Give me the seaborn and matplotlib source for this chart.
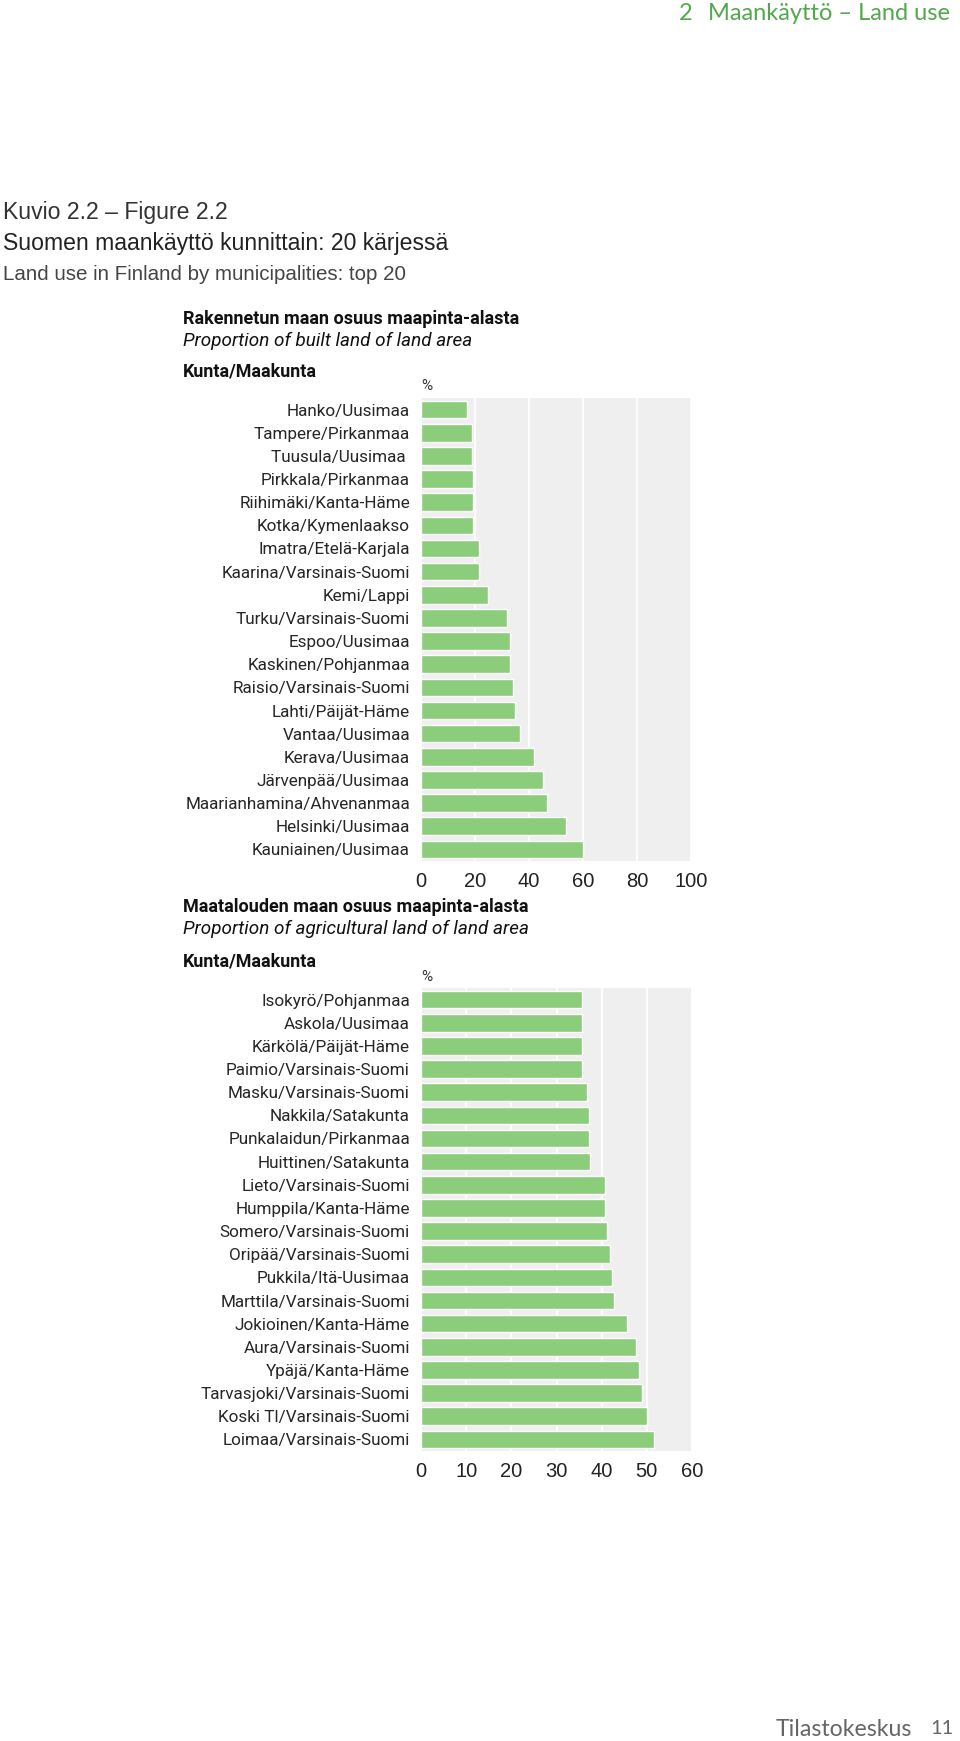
import matplotlib
matplotlib.use("Agg")
import matplotlib.pyplot as plt
import seaborn as sns
import pandas as pd

# Built land, % of land area
built_places = [
    "Hanko/Uusimaa", "Tampere/Pirkanmaa", "Tuusula/Uusimaa ", "Pirkkala/Pirkanmaa",
    "Riihimäki/Kanta-Häme", "Kotka/Kymenlaakso", "Imatra/Etelä-Karjala",
    "Kaarina/Varsinais-Suomi", "Kemi/Lappi", "Turku/Varsinais-Suomi", "Espoo/Uusimaa",
    "Kaskinen/Pohjanmaa", "Raisio/Varsinais-Suomi", "Lahti/Päijät-Häme", "Vantaa/Uusimaa",
    "Kerava/Uusimaa", "Järvenpää/Uusimaa", "Maarianhamina/Ahvenanmaa", "Helsinki/Uusimaa",
    "Kauniainen/Uusimaa",
]
built_share = [16.9, 18.8, 18.8, 19.4, 19.4, 19.4, 21.3, 21.3, 24.7, 31.7,
               32.9, 32.9, 34.2, 34.8, 36.8, 42.0, 45.3, 46.5, 53.6, 60.0]
built_ticks = [0, 20, 40, 60, 80, 100]

# Agricultural land, % of land area
agri_places = [
    "Isokyrö/Pohjanmaa", "Askola/Uusimaa", "Kärkölä/Päijät-Häme", "Paimio/Varsinais-Suomi",
    "Masku/Varsinais-Suomi", "Nakkila/Satakunta", "Punkalaidun/Pirkanmaa",
    "Huittinen/Satakunta", "Lieto/Varsinais-Suomi", "Humppila/Kanta-Häme",
    "Somero/Varsinais-Suomi", "Oripää/Varsinais-Suomi", "Pukkila/Itä-Uusimaa",
    "Marttila/Varsinais-Suomi", "Jokioinen/Kanta-Häme", "Aura/Varsinais-Suomi",
    "Ypäjä/Kanta-Häme", "Tarvasjoki/Varsinais-Suomi", "Koski Tl/Varsinais-Suomi",
    "Loimaa/Varsinais-Suomi",
]
agri_share = [35.7, 35.7, 35.7, 35.7, 36.8, 37.1, 37.1, 37.5, 40.8, 40.8,
              41.2, 41.9, 42.3, 42.7, 45.6, 47.5, 48.2, 49.0, 50.0, 51.6]
agri_ticks = [0, 10, 20, 30, 40, 50, 60]

GREEN = "#8ccd7c"
PANEL = "#efefef"
HEAD_GREEN = "#52a84c"
W, H = 960, 1741
LABEL_FONT = ["Roboto", "DejaVu Sans"]
PAGE_FONT = ["Lato", "DejaVu Sans"]

sns.set_theme(style="white")
plt.rcParams["font.family"] = ["Liberation Sans", "DejaVu Sans"]

fig = plt.figure(figsize=(W / 100, H / 100), dpi=100)


def put(x, y, s, **kw):
    kw.setdefault("va", "center")
    fig.text(x / W, 1 - y / H, s, **kw)


def bar_panel(left, top, right, bottom, places, shares, ticks):
    ax = fig.add_axes([left / W, 1 - bottom / H, (right - left) / W, (bottom - top) / H])
    df = pd.DataFrame({"place": places, "share": shares})
    sns.barplot(data=df, x="share", y="place", color=GREEN, saturation=1,
                width=0.76, ax=ax)
    ax.set_facecolor(PANEL)
    ax.set_xlim(ticks[0], ticks[-1])
    ax.set_xticks(ticks)
    ax.set_axisbelow(True)
    ax.grid(axis="x", color="white", linewidth=1.3)
    ax.grid(axis="y", visible=False)
    ax.set_xlabel("")
    ax.set_ylabel("")
    sns.despine(ax=ax, left=True, bottom=True)
    ax.tick_params(axis="y", length=0, pad=8, labelsize=12.3, labelcolor="#262626",
                   labelfontfamily=LABEL_FONT)
    ax.tick_params(axis="x", length=0, pad=8, labelsize=14.5, labelcolor="#222222")
    return ax


bar_panel(421, 398, 691, 861, built_places, built_share, built_ticks)
bar_panel(421, 988, 692, 1451, agri_places, agri_share, agri_ticks)

# page header / footer
put(679, 14, "2", color=HEAD_GREEN, fontsize=17, family=PAGE_FONT)
put(708, 14, "Maankäyttö – Land use", color=HEAD_GREEN, fontsize=17, family=PAGE_FONT)
put(776, 1729, "Tilastokeskus", color="#666666", fontsize=16.7, family=PAGE_FONT)
put(930, 1729, "11", color="#666666", fontsize=14.5, family=PAGE_FONT)

# figure titles
put(3, 212, "Kuvio 2.2 – Figure 2.2", fontsize=16.6, color="#333333")
put(3, 244, "Suomen maankäyttö kunnittain: 20 kärjessä", fontsize=16.6, color="#222222")
put(3, 274, "Land use in Finland by municipalities: top 20", fontsize=14.8, color="#444444")

# panel headings
put(183, 319, "Rakennetun maan osuus maapinta-alasta", fontsize=13, weight="bold",
    family=LABEL_FONT, color="#111111")
put(183, 341, "Proportion of built land of land area", fontsize=13.6, style="italic",
    family=LABEL_FONT, color="#111111")
put(183, 371, "Kunta/Maakunta", fontsize=12.9, weight="bold", family=LABEL_FONT,
    color="#111111")
put(421, 386, "%", fontsize=11, family=LABEL_FONT, color="#333333")

put(183, 907, "Maatalouden maan osuus maapinta-alasta", fontsize=13, weight="bold",
    family=LABEL_FONT, color="#111111")
put(183, 929, "Proportion of agricultural land of land area", fontsize=13.6,
    style="italic", family=LABEL_FONT, color="#111111")
put(183, 961, "Kunta/Maakunta", fontsize=12.9, weight="bold", family=LABEL_FONT,
    color="#111111")
put(421, 977, "%", fontsize=11, family=LABEL_FONT, color="#333333")

fig.savefig("out.png", dpi=100, facecolor="white")
